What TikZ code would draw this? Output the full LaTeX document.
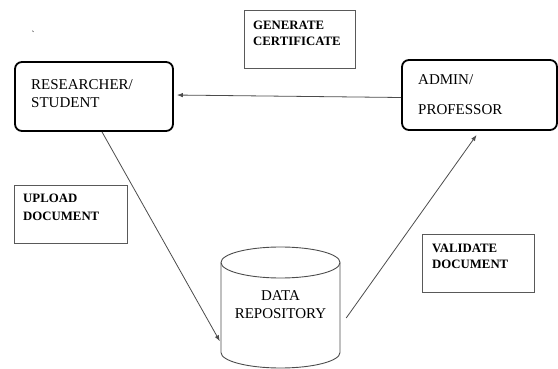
\documentclass[tikz,border=0pt]{standalone}
\usepackage{fontspec}
\setmainfont{Liberation Serif}
\usetikzlibrary{arrows.meta}
\begin{document}
\begin{tikzpicture}[x=1pt,y=1pt,
  actor/.style={draw=black,line width=1.8pt,rounded corners=7pt,inner sep=0pt},
  labelbox/.style={draw=black!65,line width=0.9pt,inner sep=0pt},
  big/.style={font=\fontsize{15}{18}\selectfont,inner sep=0pt,anchor=base west,text=black},
  bld/.style={font=\fontsize{12.8}{16}\selectfont\bfseries,inner sep=0pt,anchor=base west,text=black},
  arr/.style={draw=black!70,line width=0.8pt,-{Latex[length=6pt,width=4.5pt]}}
]
\useasboundingbox (0,0) rectangle (558,-369);
% stray mark
\node[inner sep=0pt,font=\fontsize{9}{9}\selectfont] (stray) at (33,-34) {\textasciigrave};
% actors
\node[actor,minimum width=158pt,minimum height=69pt] (res) at (94,-96.5) {};
\node[big] (resA) at (31,-90) {RESEARCHER/};
\node[big] (resB) at (31,-108) {STUDENT};
\node[actor,minimum width=155pt,minimum height=70pt] (adm) at (479.5,-95) {};
\node[big] (admA) at (418,-85) {ADMIN/};
\node[big] (admB) at (418,-115) {PROFESSOR};
% label boxes
\node[labelbox,minimum width=111pt,minimum height=58pt] (gen) at (299.5,-39) {};
\node[bld] (genA) at (253,-29.5) {GENERATE};
\node[bld] (genB) at (253,-45.5) {CERTIFICATE};
\node[labelbox,minimum width=113pt,minimum height=58pt] (upl) at (70.5,-214) {};
\node[bld] (uplA) at (23,-203) {UPLOAD};
\node[bld] (uplB) at (23,-221) {DOCUMENT};
\node[labelbox,minimum width=112pt,minimum height=58pt] (val) at (478,-263) {};
\node[bld] (valA) at (432,-252) {VALIDATE};
\node[bld] (valB) at (432,-269) {DOCUMENT};
% repository cylinder
\node[minimum width=119pt,minimum height=121pt,inner sep=0pt] (repo) at (280.5,-307.5) {};
\draw[draw=black!70,line width=0.9pt] (280.5,-262.5) ellipse[x radius=59.5,y radius=15.5];
\draw[draw=black!70,line width=0.9pt] (221,-262.5) -- (221,-352.5)
  arc[start angle=180,end angle=360,x radius=59.5,y radius=15.5] -- (340,-262.5);
\node[big,anchor=base] (repA) at (280.5,-300) {DATA};
\node[big,anchor=base] (repB) at (280.5,-318) {REPOSITORY};
% connectors
\draw[arr,shorten >=3pt] ([yshift=-2.5pt]adm.west) -- ([yshift=1.5pt]res.east);
\draw[arr,shorten >=2pt] ([xshift=8pt]res.south) -- ([yshift=-35.5pt]repo.west);
\draw[arr,shorten >=5pt] ([xshift=6pt,yshift=-10.5pt]repo.east) -- (adm.south);
\end{tikzpicture}
\end{document}
